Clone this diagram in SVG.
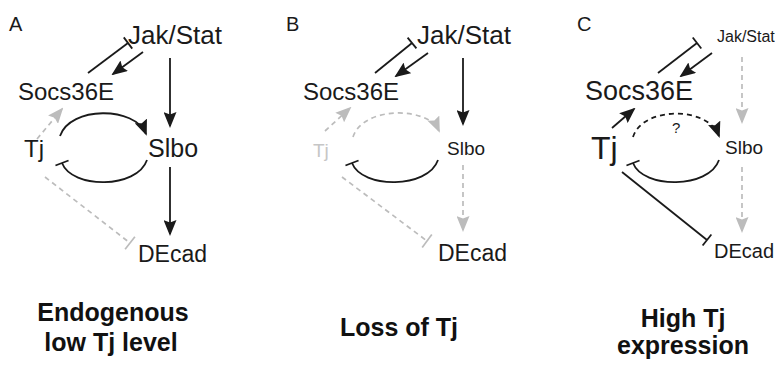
<svg xmlns="http://www.w3.org/2000/svg" width="775" height="371" viewBox="0 0 775 371">
  <style>
    text { font-family: "Liberation Sans", Arial, Helvetica, sans-serif; fill: #1a1a1a; }
    .panel { font-size: 20px; }
    .faint { fill: #c6c6c6; }
    .caption { font-weight: bold; font-size: 25px; text-anchor: middle; fill: #111; }
    .act { fill: none; stroke: #1a1a1a; stroke-width: 1.8; marker-end: url(#arrow); }
    .inh { fill: none; stroke: #1a1a1a; stroke-width: 1.8; marker-end: url(#tbar); }
    .act-dash { fill: none; stroke: #1a1a1a; stroke-width: 1.8; stroke-dasharray: 5 4; marker-end: url(#arrow); }
    .act-gray { fill: none; stroke: #bcbcbc; stroke-width: 1.7; stroke-dasharray: 5 4; marker-end: url(#arrow-gray); }
    .inh-gray { fill: none; stroke: #bcbcbc; stroke-width: 1.7; stroke-dasharray: 5 4; marker-end: url(#tbar-gray); }
  </style>
  <defs>
    <marker id="arrow" markerUnits="userSpaceOnUse" markerWidth="16" markerHeight="13" refX="14" refY="6.5" orient="auto">
      <path d="M0,0 L16,6.5 L0,13 L2.5,6.5 z" fill="#1a1a1a"/>
    </marker>
    <marker id="arrow-gray" markerUnits="userSpaceOnUse" markerWidth="16" markerHeight="13" refX="14" refY="6.5" orient="auto">
      <path d="M0,0 L16,6.5 L0,13 L2.5,6.5 z" fill="#bcbcbc"/>
    </marker>
    <marker id="tbar" markerUnits="userSpaceOnUse" markerWidth="4" markerHeight="16" refX="2" refY="8" orient="auto">
      <path d="M2,1 L2,15" stroke="#1a1a1a" stroke-width="1.8" stroke-dasharray="none"/>
    </marker>
    <marker id="tbar-gray" markerUnits="userSpaceOnUse" markerWidth="4" markerHeight="18" refX="2" refY="9" orient="auto">
      <path d="M2,1 L2,17" stroke="#bcbcbc" stroke-width="1.7" stroke-dasharray="none"/>
    </marker>
  </defs>
  <rect width="775" height="371" fill="#ffffff"/>

  <!-- Panel A: endogenous low Tj level -->
  <g id="panelA">
    <text class="panel" x="9" y="31">A</text>
    <g id="A-jakstat"><text x="128" y="44" font-size="26">Jak/Stat</text></g>
    <g id="A-socs36e"><text x="18" y="100" font-size="24">Socs36E</text></g>
    <g id="A-tj"><text x="24" y="157" font-size="24">Tj</text></g>
    <g id="A-slbo"><text x="148" y="157" font-size="25">Slbo</text></g>
    <g id="A-decad"><text x="138" y="262" font-size="23">DEcad</text></g>
    <g id="A-connectors">
      <path class="inh" d="M88,73 L128,43"/>
      <path class="act" d="M143,52 L113,74"/>
      <path class="act" d="M170,58 L170,126"/>
      <path class="act" d="M170,167 L170,234"/>
      <path class="act-gray" d="M37,139 L62,109"/>
      <path class="act" d="M60,136 C70,106 135,106 146,134"/>
      <path class="inh" d="M147,160 C137,189 72,189 62,163"/>
      <path class="inh-gray" d="M45,177 L130,243"/>
    </g>
  </g>

  <!-- Panel B: loss of Tj -->
  <g id="panelB">
    <text class="panel" x="286" y="31">B</text>
    <g id="B-jakstat"><text x="417" y="44" font-size="26">Jak/Stat</text></g>
    <g id="B-socs36e"><text x="303" y="100" font-size="24">Socs36E</text></g>
    <g id="B-tj"><text class="faint" x="313" y="157" font-size="19">Tj</text></g>
    <g id="B-slbo"><text x="447" y="155" font-size="19">Slbo</text></g>
    <g id="B-decad"><text x="438" y="261" font-size="23">DEcad</text></g>
    <g id="B-connectors">
      <path class="inh" d="M375,73 L412,43"/>
      <path class="act" d="M428,53 L396,76"/>
      <path class="act" d="M463,58 L463,124"/>
      <path class="act-gray" d="M463,165 L463,230"/>
      <path class="act-gray" d="M325,131 L350,108"/>
      <path class="act-gray" d="M353,137 C363,106 428,106 439,131"/>
      <path class="inh" d="M438,160 C428,189 362,189 352,163"/>
      <path class="inh-gray" d="M342,177 L427,241"/>
    </g>
  </g>

  <!-- Panel C: high Tj expression -->
  <g id="panelC">
    <text class="panel" x="577" y="31">C</text>
    <g id="C-jakstat"><text x="717" y="42" font-size="16">Jak/Stat</text></g>
    <g id="C-socs36e"><text x="585" y="100" font-size="27">Socs36E</text></g>
    <g id="C-tj"><text x="591" y="159" font-size="32">Tj</text></g>
    <g id="C-slbo"><text x="725" y="154" font-size="19">Slbo</text></g>
    <g id="C-decad"><text x="714" y="258" font-size="20">DEcad</text></g>
    <g id="C-question"><text x="672" y="133" font-size="15">?</text></g>
    <g id="C-connectors">
      <path class="inh" d="M658,73 L697,43"/>
      <path class="act" d="M712,53 L681,76"/>
      <path class="act-gray" d="M742,57 L742,122"/>
      <path class="act-gray" d="M742,167 L742,231"/>
      <path class="act" d="M612,128 L634,109"/>
      <path class="act-dash" d="M633,137 C643,106 708,106 719,136"/>
      <path class="inh" d="M719,160 C709,189 643,189 633,163"/>
      <path class="inh" d="M622,172 L707,240"/>
    </g>
  </g>

  <!-- Condition captions -->
  <g id="captions">
    <text class="caption" x="113" y="321">Endogenous</text>
    <text class="caption" x="111" y="351">low Tj level</text>
    <text class="caption" x="399" y="336">Loss of Tj</text>
    <text class="caption" x="683" y="327">High Tj</text>
    <text class="caption" x="683" y="354">expression</text>
  </g>
</svg>
